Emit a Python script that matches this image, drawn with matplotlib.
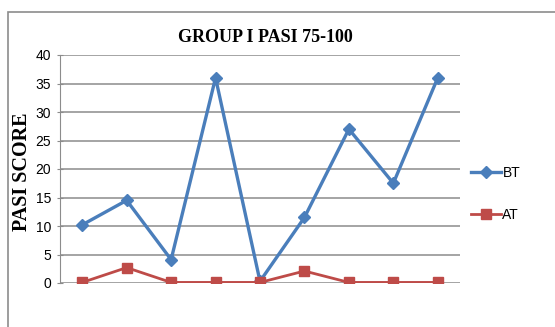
import matplotlib
matplotlib.use("Agg")
import matplotlib.pyplot as plt
from matplotlib.patches import Rectangle

categories = ["1", "2", "3", "4", "5", "6", "7", "8", "9"]
bt_values = [10.2, 14.5, 4.1, 36.0, 0.3, 11.5, 27.0, 17.5, 36.0]
at_values = [0.1, 2.7, 0.1, 0.1, 0.1, 2.1, 0.1, 0.1, 0.1]
y_ticks = [0, 5, 10, 15, 20, 25, 30, 35, 40]

W, H = 555, 327
fig = plt.figure(figsize=(W / 100, H / 100), dpi=100)
fig.patch.set_facecolor("white")

# outer chart border (extends past image edge)
fig.patches.append(Rectangle((8 / W, -0.1), 1.2, 1 - 12 / H + 0.1, transform=fig.transFigure,
                             fill=False, edgecolor="#8c8c8c", linewidth=1.2))

ax = fig.add_axes([60 / W, 1 - 283 / H, 400 / W, 228 / H])
x = list(range(len(categories)))
ax.plot(x, bt_values, color="#4a7ebb", linewidth=2.4, marker="D", markersize=6, label="BT", zorder=3)
ax.plot(x, at_values, color="#be4b48", linewidth=2.0, marker="s", markersize=7, label="AT", zorder=3)

ax.set_xlim(-0.5, len(categories) - 0.5)
ax.set_ylim(0, 40)
ax.set_yticks(y_ticks)
ax.set_xticks([])
ax.yaxis.grid(True, color="#8c8c8c", linewidth=1.1)
ax.set_axisbelow(True)
for s in ["top", "right", "bottom"]:
    ax.spines[s].set_visible(False)
ax.spines["left"].set_color("#8c8c8c")
ax.tick_params(axis="y", direction="inout", length=5, color="#8c8c8c", labelsize=10, pad=4)
for lab in ax.get_yticklabels():
    lab.set_family(["Liberation Sans", "DejaVu Sans"])

fig.text(22 / W, 1 - 172 / H, "PASI SCORE", ha="center", va="center", rotation=90,
         fontsize=14.5, fontweight="bold", family="Liberation Serif")
fig.text(265 / W, 1 - 38 / H, "GROUP I PASI 75-100", ha="center", va="center",
         fontsize=13, fontweight="bold", family="Liberation Serif")

leg = ax.legend(loc="center left", bbox_to_anchor=(0.995, 0.39), frameon=False,
                handlelength=2.2, labelspacing=2.0, handletextpad=0.1,
                prop={"family": ["Liberation Sans", "DejaVu Sans"], "size": 10})

fig.savefig("out.png", dpi=100)
